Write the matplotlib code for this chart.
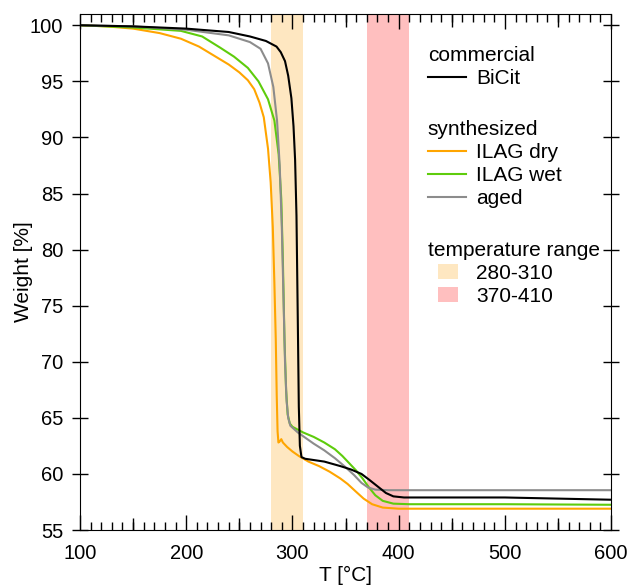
import matplotlib
matplotlib.use("Agg")
import matplotlib.pyplot as plt
import matplotlib.patches as mpatches
from matplotlib.legend_handler import HandlerPatch

plt.rcParams['font.family'] = ['Liberation Sans', 'DejaVu Sans']

# TGA curves (temperature in degC, weight in %)
bicit_T = [100, 150, 200, 240, 260, 275, 285, 289, 293, 296, 299, 301, 302.5, 303.8,
           305, 306, 307, 308.5, 312, 330, 345, 355, 365, 372, 380, 388, 395, 405,
           420, 500, 550, 600]
bicit_W = [100.0, 99.9, 99.7, 99.4, 99.0, 98.6, 98.1, 97.6, 96.8, 95.5, 93.5, 91.0,
           88.0, 83.0, 74.0, 66.0, 62.5, 61.5, 61.35, 61.1, 60.7, 60.4, 60.0, 59.5,
           58.9, 58.3, 58.0, 57.9, 57.9, 57.9, 57.8, 57.7]

dry_T = [100, 125, 150, 175, 195, 212, 226, 240, 250, 258, 264, 269, 273, 277, 279.5,
         281.5, 283, 284.3, 285.2, 286, 286.8, 288, 289.5, 291, 295, 300, 306, 315,
         325, 335, 345, 352, 360, 367, 375, 385, 400, 600]
dry_W = [100.0, 99.9, 99.7, 99.3, 98.8, 98.1, 97.3, 96.5, 95.8, 95.1, 94.3, 93.1,
         91.8, 89.0, 86.0, 82.0, 77.0, 72.0, 67.0, 63.8, 62.8, 62.9, 63.1, 62.8,
         62.4, 62.0, 61.6, 61.1, 60.7, 60.2, 59.6, 59.1, 58.4, 57.8, 57.3, 57.0,
         56.9, 56.9]

wet_T = [100, 150, 195, 215, 232, 245, 258, 268, 277, 283, 287, 289.5, 291, 292.5,
         294, 295.5, 297.5, 300, 310, 320, 330, 340, 347, 354, 360, 366, 372, 378,
         385, 395, 410, 500, 600]
wet_W = [100.0, 99.8, 99.5, 99.0, 98.0, 97.2, 96.2, 95.0, 93.4, 91.5, 88.5, 84.5,
         79.0, 72.0, 67.5, 65.3, 64.5, 64.2, 63.7, 63.3, 62.8, 62.2, 61.6, 60.9,
         60.3, 59.6, 58.8, 58.1, 57.6, 57.35, 57.3, 57.3, 57.25]

aged_T = [100, 150, 200, 240, 260, 270, 277, 282, 285.5, 288, 290, 291.5, 293, 294.5,
          296, 298, 305, 320, 330, 340, 350, 358, 365, 371, 378, 390, 600]
aged_W = [100.0, 99.9, 99.6, 99.1, 98.5, 97.9, 96.6, 94.5, 91.5, 87.5, 82.0, 76.0,
          70.0, 66.5, 65.0, 64.3, 63.7, 62.7, 62.1, 61.4, 60.6, 59.9, 59.2, 58.8,
          58.6, 58.55, 58.55]

ranges = [(280, 310), (370, 410)]
range_labels = ['280-310', '370-410']
range_colors = ['#fee7c1', '#ffbfbf']


def square_patch(legend, orig_handle, xdescent, ydescent, width, height, fontsize):
    # small box in the middle of the handle area
    return mpatches.Rectangle((-xdescent + 0.26 * width, -ydescent), 0.53 * width, height)


fig = plt.figure(figsize=(6.3, 5.85), dpi=100)
ax = fig.add_axes([0.127, 0.094, 0.843, 0.882])

for (lo, hi), c in zip(ranges, range_colors):
    ax.axvspan(lo, hi, color=c, lw=0, zorder=0)

l_dry, = ax.plot(dry_T, dry_W, color='#ffa500', lw=1.5, label='ILAG dry')
l_wet, = ax.plot(wet_T, wet_W, color='#5ecc0c', lw=1.5, label='ILAG wet')
l_aged, = ax.plot(aged_T, aged_W, color='#8c8c8c', lw=1.5, label='aged')
l_bicit, = ax.plot(bicit_T, bicit_W, color='black', lw=1.5, label='BiCit')

ax.set_xlim(100, 600)
ax.set_ylim(55, 101)
ax.set_xticks(range(100, 601, 100))
ax.set_xticks(range(100, 601, 10), minor=True)
ax.set_yticks(range(55, 101, 5))
ax.tick_params(axis='x', which='major', direction='in', length=11, width=1,
               top=True, labelsize=14.5, pad=10)
ax.tick_params(axis='x', which='minor', direction='in', length=6, width=1, top=True)
ax.tick_params(axis='y', which='major', direction='inout', length=12, width=1,
               right=True, labelsize=14.5, pad=6)
for side in ['bottom', 'top']:
    sec = ax.secondary_xaxis(side)
    sec.set_xticks(range(150, 600, 100))
    sec.tick_params(direction='in', length=9, width=1, labelbottom=False, labeltop=False)
    sec.spines[side].set_visible(False)

ax.set_xlabel('T [°C]', fontsize=15, labelpad=2.2)
ax.set_ylabel('Weight [%]', fontsize=15, labelpad=-2)

common = dict(loc='upper left', frameon=False, borderpad=0, fontsize=15,
              title_fontsize=15, alignment='left', handlelength=1.83,
              handletextpad=0.48, labelspacing=0.2, borderaxespad=0)

leg1 = ax.legend([l_bicit], ['BiCit'], title='commercial',
                 bbox_to_anchor=(0.655, 0.938), **common)
ax.add_artist(leg1)
leg2 = ax.legend([l_dry, l_wet, l_aged], ['ILAG dry', 'ILAG wet', 'aged'],
                 title='synthesized', bbox_to_anchor=(0.655, 0.795), **common)
ax.add_artist(leg2)
patches = [mpatches.Patch(color=c, lw=0) for c in range_colors]
leg3 = ax.legend(patches, range_labels, title='temperature range',
                 bbox_to_anchor=(0.655, 0.561),
                 handler_map={mpatches.Patch: HandlerPatch(patch_func=square_patch)},
                 **common)

fig.savefig('out.png', dpi=100)
